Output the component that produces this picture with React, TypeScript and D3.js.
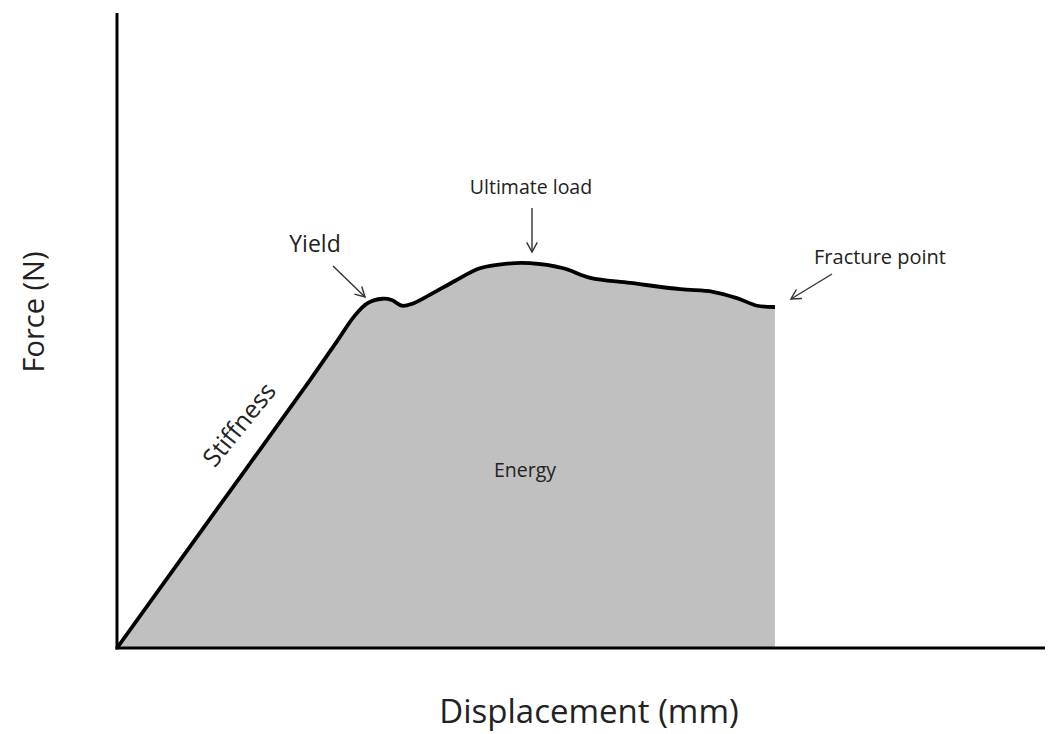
import React from "react";
import * as d3 from "d3";

const displacement = [0, 1.0, 2.08, 2.37, 2.56, 2.7, 2.86, 2.96, 3.07, 3.18, 3.37, 3.64, 3.91, 4.18, 4.45, 4.81, 5.1, 5.53, 6.07, 6.42, 6.68, 6.9, 7.09];
const force = [0, 20.3, 42.2, 48.3, 52.3, 54.3, 55.0, 54.8, 53.9, 54.2, 55.6, 57.8, 59.8, 60.5, 60.6, 59.8, 58.3, 57.5, 56.5, 56.1, 55.1, 53.9, 53.7];

const xLabel = "Displacement (mm)";
const yLabel = "Force (N)";

export default function App() {
  const W = 1050, H = 734;
  const x = d3.scaleLinear().domain([0, 10]).range([117, 1045]);
  const y = d3.scaleLinear().domain([0, 100]).range([648, 13]);
  const pts: [number, number][] = displacement.map((d, i) => [d, force[i]]);
  const line = d3.line<[number, number]>().x(d => x(d[0])).y(d => y(d[1])).curve(d3.curveCatmullRom.alpha(0.5));
  const area = d3.area<[number, number]>().x(d => x(d[0])).y0(y(0)).y1(d => y(d[1])).curve(d3.curveCatmullRom.alpha(0.5));
  const font = "Open Sans, sans-serif";
  const arrow = (x1: number, y1: number, x2: number, y2: number) => {
    const a = Math.atan2(y2 - y1, x2 - x1);
    const L = 11, s = 0.5;
    const p1 = [x2 - L * Math.cos(a - s), y2 - L * Math.sin(a - s)];
    const p2 = [x2 - L * Math.cos(a + s), y2 - L * Math.sin(a + s)];
    return (
      <g stroke="#333" strokeWidth={1.4} fill="none">
        <line x1={x1} y1={y1} x2={x2} y2={y2} />
        <polyline points={`${p1[0]},${p1[1]} ${x2},${y2} ${p2[0]},${p2[1]}`} />
      </g>
    );
  };
  const lastX = x(displacement[displacement.length - 1]);
  const lastY = y(force[force.length - 1]);
  return (
    <svg width={W} height={H} style={{ position: "absolute", left: 0, top: 0 }}>
      <rect width={W} height={H} fill="#fff" />
      <path d={area(pts) || ""} fill="#c0c0c0" />
      <path d={line(pts) || ""} fill="none" stroke="#000" strokeWidth={3.8} strokeLinejoin="round" />
      <line x1={x(0)} y1={13} x2={x(0)} y2={y(0) + 1.5} stroke="#000" strokeWidth={3} />
      <line x1={x(0) - 1.5} y1={y(0)} x2={1045} y2={y(0)} stroke="#000" strokeWidth={3} />
      <text x={589} y={723} textAnchor="middle" fontFamily={font} fontSize={33} fill="#222">{xLabel}</text>
      <text transform="translate(44,312) rotate(-90)" textAnchor="middle" fontFamily={font} fontSize={29} fill="#222">{yLabel}</text>
      <text x={315} y={252} textAnchor="middle" fontFamily={font} fontSize={23} fill="#222">Yield</text>
      {arrow(333, 266, 365, 297)}
      <text x={531} y={194} textAnchor="middle" fontFamily={font} fontSize={19.5} fill="#222">Ultimate load</text>
      {arrow(532, 208, 532, 252)}
      <text x={880} y={264} textAnchor="middle" fontFamily={font} fontSize={20} fill="#222">Fracture point</text>
      {arrow(832, 274, lastX + 16, lastY - 8)}
      <text x={525} y={477} textAnchor="middle" fontFamily={font} fontSize={19.5} fill="#222">Energy</text>
      <text transform="translate(246,430) rotate(-51)" textAnchor="middle" fontFamily={font} fontSize={25} fill="#222">Stiffness</text>
    </svg>
  );
}
